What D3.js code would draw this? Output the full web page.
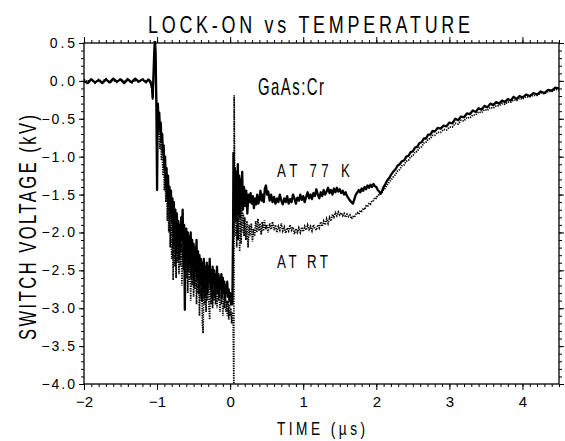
<!DOCTYPE html>
<html>
<head>
<meta charset="utf-8">
<script src="https://cdn.jsdelivr.net/npm/d3@7"></script>
<style>
  body { margin: 0; background: #fff; }
  svg text { font-family: "Liberation Sans", "DejaVu Sans", sans-serif; fill: #000; }
</style>
</head>
<body>
<svg id="chart" width="565" height="441"></svg>
<script>
// [time (us), voltage (kV)]
var trace77K = [
[-2.0,0.0],[-1.95,-0.03],[-1.9,0.02],[-1.85,-0.02],[-1.8,0.01],[-1.75,-0.03],[-1.7,0.02],[-1.65,-0.02],[-1.6,0.03],[-1.55,-0.01],[-1.5,0.02],[-1.45,-0.03],[-1.4,0.02],[-1.35,-0.02],[-1.3,0.03],[-1.25,-0.01],[-1.2,0.02],[-1.15,-0.02],[-1.12,0.02],[-1.09,-0.01],[-1.07,-0.08],[-1.06,-0.22],[-1.05,0.05],[-1.04,0.35],[-1.03,0.56],[-1.02,0.38],[-1.01,-0.3],
[-1.0,-1.44],[-0.99,-0.3],[-0.98,-0.5],[-0.97,-0.42],[-0.96,-0.65],[-0.95,-0.55],[-0.94,-0.8],[-0.93,-0.7],[-0.92,-0.95],[-0.91,-0.85],[-0.9,-1.15],[-0.89,-1.0],[-0.88,-1.4],[-0.87,-1.15],[-0.86,-1.55],[-0.85,-1.25],[-0.84,-1.65],[-0.83,-1.4],[-0.82,-1.75],[-0.81,-1.45],[-0.8,-1.85],[-0.79,-1.55],[-0.78,-2.0],[-0.77,-1.6],[-0.76,-2.15],[-0.75,-1.7],[-0.74,-2.25],[-0.73,-1.75],[-0.72,-2.0],[-0.71,-1.85],[-0.7,-2.35],[-0.69,-1.9],[-0.68,-2.25],[-0.67,-1.8],[-0.66,-2.1],[-0.65,-1.7],[-0.64,-2.3],[-0.63,-1.9],[-0.62,-3.02],[-0.61,-2.1],[-0.6,-1.95],[-0.59,-2.35],[-0.58,-2.0],[-0.57,-2.5],[-0.56,-2.05],[-0.55,-2.4],[-0.54,-2.0],[-0.53,-2.6],[-0.52,-2.1],[-0.51,-2.45],[-0.5,-2.15],[-0.49,-2.7],[-0.48,-2.2],[-0.47,-2.5],[-0.46,-2.1],[-0.45,-2.6],[-0.44,-2.25],[-0.43,-2.8],[-0.42,-2.3],[-0.41,-2.65],[-0.4,-2.35],[-0.39,-2.9],[-0.38,-2.4],[-0.37,-2.75],[-0.36,-2.35],[-0.35,-2.85],[-0.34,-2.45],[-0.33,-2.7],[-0.32,-2.4],[-0.31,-2.8],[-0.3,-2.45],[-0.29,-2.65],[-0.28,-2.35],[-0.27,-2.75],[-0.26,-2.5],[-0.25,-2.85],[-0.24,-2.45],[-0.23,-2.7],[-0.22,-2.5],[-0.21,-2.85],[-0.2,-2.55],[-0.19,-2.75],[-0.18,-2.45],[-0.17,-2.8],[-0.16,-2.55],[-0.15,-2.85],[-0.14,-2.6],[-0.13,-2.75],[-0.12,-2.55],[-0.11,-2.85],[-0.1,-2.6],[-0.09,-2.8],[-0.08,-2.65],[-0.07,-2.9],[-0.06,-2.7],[-0.05,-2.8],[-0.04,-2.65],[-0.03,-2.85],[-0.02,-2.75],[-0.01,-2.9],[0.0,-2.8],[0.01,-2.95],[0.02,-2.85],[0.03,-2.95],[0.04,-2.0],
[0.045,-0.95],[0.055,-1.7],[0.065,-1.15],[0.075,-1.85],[0.085,-1.2],[0.095,-1.6],[0.105,-1.1],[0.115,-1.75],[0.125,-1.25],[0.135,-1.8],[0.145,-1.3],[0.155,-1.65],[0.165,-1.2],[0.175,-1.7],[0.19,-1.4],[0.205,-1.65],[0.22,-1.45],[0.235,-1.75],[0.25,-1.5],[0.265,-1.6],[0.28,-1.48],[0.295,-1.62],[0.31,-1.52],[0.325,-1.68],[0.34,-1.55],[0.355,-1.63],[0.37,-1.5],[0.385,-1.62],[0.4,-1.56],[0.415,-1.45],[0.43,-1.58],[0.445,-1.5],[0.46,-1.6],[0.475,-1.42],[0.49,-1.38],[0.505,-1.5],[0.52,-1.46],[0.54,-1.58],[0.56,-1.5],[0.58,-1.6],[0.6,-1.53],[0.62,-1.62],[0.64,-1.55],[0.66,-1.6],[0.68,-1.5],[0.7,-1.58],[0.72,-1.63],[0.74,-1.55],[0.76,-1.6],[0.78,-1.52],[0.8,-1.62],[0.82,-1.56],[0.84,-1.6],[0.86,-1.5],[0.88,-1.55],[0.9,-1.62],[0.92,-1.54],[0.94,-1.58],[0.96,-1.5],[0.98,-1.57],[1.0,-1.52],[1.02,-1.6],[1.04,-1.53],[1.06,-1.47],[1.08,-1.55],[1.1,-1.5],[1.12,-1.56],[1.14,-1.48],[1.16,-1.52],[1.18,-1.43],[1.2,-1.5],[1.22,-1.55],[1.24,-1.47],[1.26,-1.52],[1.28,-1.44],[1.3,-1.5],[1.32,-1.46],[1.34,-1.41],[1.36,-1.48],[1.38,-1.44],[1.4,-1.5],[1.42,-1.42],[1.44,-1.47],[1.46,-1.41],[1.48,-1.46],[1.5,-1.43],[1.52,-1.48],[1.54,-1.45],[1.56,-1.5],[1.58,-1.47],[1.6,-1.52],[1.62,-1.55],[1.64,-1.58],[1.66,-1.6],[1.68,-1.62],[1.7,-1.56],[1.72,-1.5],[1.74,-1.47],[1.76,-1.44],[1.78,-1.47],[1.8,-1.42],[1.82,-1.45],[1.84,-1.4],[1.86,-1.43],[1.88,-1.38],[1.9,-1.41],[1.92,-1.37],[1.94,-1.4],[1.96,-1.36],[1.98,-1.39],[2.0,-1.4],[2.02,-1.44],[2.04,-1.46],[2.06,-1.49],[2.08,-1.45],[2.1,-1.4],[2.12,-1.37],[2.14,-1.33],[2.16,-1.3],[2.18,-1.28],[2.2,-1.24],[2.23,-1.2],[2.26,-1.17],[2.29,-1.12],[2.32,-1.1],[2.35,-1.06],[2.38,-1.05],[2.41,-1.0],[2.44,-0.99],[2.47,-0.94],[2.5,-0.93],[2.53,-0.88],[2.56,-0.87],[2.59,-0.82],[2.62,-0.81],[2.65,-0.76],[2.68,-0.76],[2.71,-0.71],[2.74,-0.71],[2.77,-0.66],[2.8,-0.67],[2.84,-0.62],[2.88,-0.63],[2.92,-0.59],[2.96,-0.6],[3.0,-0.55],[3.04,-0.56],[3.08,-0.5],[3.12,-0.52],[3.16,-0.47],[3.2,-0.48],[3.24,-0.43],[3.28,-0.44],[3.32,-0.39],[3.36,-0.41],[3.4,-0.36],[3.44,-0.38],[3.48,-0.33],[3.52,-0.35],[3.56,-0.3],[3.6,-0.32],[3.64,-0.28],[3.68,-0.3],[3.72,-0.26],[3.76,-0.28],[3.8,-0.24],[3.84,-0.26],[3.88,-0.21],[3.92,-0.24],[3.96,-0.2],[4.0,-0.22],[4.05,-0.18],[4.1,-0.2],[4.15,-0.16],[4.2,-0.18],[4.25,-0.14],[4.3,-0.16],[4.35,-0.12],[4.4,-0.13],[4.45,-0.09],[4.5,-0.1]
];

var traceRT = [
[-2.0,0.02],[-1.95,-0.01],[-1.9,0.03],[-1.85,-0.03],[-1.8,0.02],[-1.75,-0.01],[-1.7,0.03],[-1.65,-0.03],[-1.6,0.01],[-1.55,-0.02],[-1.5,0.03],[-1.45,-0.01],[-1.4,0.03],[-1.35,-0.03],[-1.3,0.01],[-1.25,-0.02],[-1.2,0.03],[-1.15,-0.01],[-1.12,0.01],[-1.09,-0.03],[-1.07,-0.12],[-1.06,-0.25],[-1.05,0.0],[-1.04,0.25],[-1.03,0.5],[-1.02,0.2],[-1.01,-0.2],
[-1.0,-0.6],[-0.99,-0.45],[-0.98,-0.7],[-0.97,-0.55],[-0.96,-0.9],[-0.95,-0.7],[-0.94,-1.05],[-0.93,-0.85],[-0.92,-1.25],[-0.91,-1.0],[-0.9,-1.45],[-0.89,-1.15],[-0.88,-1.6],[-0.87,-1.3],[-0.86,-1.85],[-0.85,-1.45],[-0.84,-2.0],[-0.83,-1.6],[-0.82,-2.2],[-0.81,-1.75],[-0.8,-2.35],[-0.79,-1.85],[-0.78,-2.63],[-0.77,-1.95],[-0.76,-2.45],[-0.75,-2.0],[-0.74,-2.6],[-0.73,-2.05],[-0.72,-2.4],[-0.71,-2.1],[-0.7,-2.55],[-0.69,-2.1],[-0.68,-2.45],[-0.67,-2.15],[-0.66,-2.7],[-0.65,-2.2],[-0.64,-2.5],[-0.63,-2.1],[-0.62,-2.45],[-0.61,-2.15],[-0.6,-2.6],[-0.59,-2.2],[-0.58,-2.8],[-0.57,-2.3],[-0.56,-2.65],[-0.55,-2.3],[-0.54,-2.9],[-0.53,-2.4],[-0.52,-2.7],[-0.51,-2.35],[-0.5,-2.85],[-0.49,-2.4],[-0.48,-2.75],[-0.47,-2.45],[-0.46,-2.95],[-0.45,-2.5],[-0.44,-2.8],[-0.43,-2.55],[-0.42,-3.1],[-0.41,-2.6],[-0.4,-2.85],[-0.39,-2.6],[-0.38,-3.2],[-0.37,-3.33],[-0.36,-2.7],[-0.35,-2.95],[-0.34,-2.65],[-0.33,-3.05],[-0.32,-2.7],[-0.31,-2.9],[-0.3,-2.6],[-0.29,-3.0],[-0.28,-3.15],[-0.27,-2.75],[-0.26,-2.95],[-0.25,-2.7],[-0.24,-3.0],[-0.23,-2.75],[-0.22,-2.9],[-0.21,-2.65],[-0.2,-2.95],[-0.19,-2.75],[-0.18,-3.0],[-0.17,-2.7],[-0.16,-2.9],[-0.15,-2.75],[-0.14,-3.05],[-0.13,-2.8],[-0.12,-2.95],[-0.11,-2.75],[-0.1,-3.1],[-0.09,-2.85],[-0.08,-3.0],[-0.07,-2.8],[-0.06,-3.05],[-0.05,-2.9],[-0.04,-3.1],[-0.03,-2.9],[-0.02,-3.15],[-0.01,-2.95],[0.0,-3.1],[0.01,-3.0],[0.02,-3.2],[0.03,-3.05],[0.04,-3.15],[0.05,-4.0],
[0.055,-0.19],[0.062,-1.3],[0.07,-2.05],[0.08,-1.45],[0.09,-2.2],[0.1,-1.5],[0.11,-2.1],[0.12,-1.6],[0.13,-2.25],[0.14,-1.7],[0.15,-2.15],[0.16,-1.65],[0.17,-2.0],[0.18,-1.75],[0.19,-2.05],[0.2,-1.8],[0.215,-2.1],[0.23,-1.85],[0.245,-2.2],[0.26,-1.9],[0.275,-2.05],[0.29,-1.88],[0.305,-2.12],[0.32,-1.95],[0.335,-2.05],[0.35,-1.85],[0.365,-2.0],[0.38,-1.82],[0.395,-1.98],[0.41,-1.88],[0.425,-2.03],[0.44,-1.86],[0.455,-1.98],[0.47,-1.84],[0.485,-1.96],[0.5,-1.9],[0.52,-2.0],[0.54,-1.88],[0.56,-1.96],[0.58,-1.86],[0.6,-1.97],[0.62,-1.9],[0.64,-2.0],[0.66,-1.92],[0.68,-1.97],[0.7,-1.88],[0.72,-1.98],[0.74,-1.93],[0.76,-2.01],[0.78,-1.94],[0.8,-1.98],[0.82,-1.9],[0.84,-1.97],[0.86,-1.93],[0.88,-2.02],[0.9,-1.95],[0.92,-2.0],[0.94,-1.94],[0.96,-2.0],[0.98,-1.93],[1.0,-1.99],[1.02,-1.92],[1.04,-1.97],[1.06,-1.9],[1.08,-1.96],[1.1,-1.92],[1.12,-1.98],[1.14,-1.9],[1.16,-1.95],[1.18,-1.97],[1.2,-1.9],[1.22,-1.94],[1.24,-1.86],[1.26,-1.92],[1.28,-1.85],[1.3,-1.9],[1.32,-1.82],[1.34,-1.88],[1.36,-1.8],[1.38,-1.85],[1.4,-1.76],[1.42,-1.8],[1.44,-1.74],[1.46,-1.78],[1.48,-1.73],[1.5,-1.77],[1.52,-1.74],[1.54,-1.78],[1.56,-1.75],[1.58,-1.8],[1.6,-1.76],[1.62,-1.79],[1.64,-1.77],[1.66,-1.82],[1.68,-1.79],[1.7,-1.8],[1.72,-1.76],[1.74,-1.74],[1.76,-1.76],[1.78,-1.71],[1.8,-1.72],[1.82,-1.68],[1.84,-1.7],[1.86,-1.65],[1.88,-1.66],[1.9,-1.62],[1.92,-1.63],[1.94,-1.58],[1.96,-1.58],[1.98,-1.54],[2.0,-1.55],[2.02,-1.51],[2.04,-1.5],[2.06,-1.47],[2.08,-1.47],[2.1,-1.43],[2.12,-1.42],[2.14,-1.38],[2.16,-1.36],[2.18,-1.33],[2.2,-1.31],[2.23,-1.27],[2.26,-1.24],[2.29,-1.19],[2.32,-1.17],[2.35,-1.12],[2.38,-1.11],[2.41,-1.06],[2.44,-1.05],[2.47,-1.0],[2.5,-0.99],[2.53,-0.94],[2.56,-0.93],[2.59,-0.88],[2.62,-0.87],[2.65,-0.82],[2.68,-0.81],[2.71,-0.77],[2.74,-0.76],[2.77,-0.72],[2.8,-0.72],[2.84,-0.68],[2.88,-0.68],[2.92,-0.64],[2.96,-0.65],[3.0,-0.61],[3.04,-0.61],[3.08,-0.56],[3.12,-0.57],[3.16,-0.52],[3.2,-0.53],[3.24,-0.48],[3.28,-0.49],[3.32,-0.45],[3.36,-0.45],[3.4,-0.41],[3.44,-0.42],[3.48,-0.38],[3.52,-0.39],[3.56,-0.35],[3.6,-0.36],[3.64,-0.33],[3.68,-0.33],[3.72,-0.3],[3.76,-0.31],[3.8,-0.28],[3.84,-0.28],[3.88,-0.25],[3.92,-0.26],[3.96,-0.23],[4.0,-0.24],[4.05,-0.21],[4.1,-0.21],[4.15,-0.19],[4.2,-0.19],[4.25,-0.16],[4.3,-0.17],[4.35,-0.14],[4.4,-0.14],[4.45,-0.11],[4.5,-0.12]
];

var xTicks = [-2, -1, 0, 1, 2, 3, 4];
var yTicks = [0.5, 0.0, -0.5, -1.0, -1.5, -2.0, -2.5, -3.0, -3.5, -4.0];

var margin = {left: 84, right: 6, top: 43, bottom: 57};
var W = 565, H = 441;
var svg = d3.select('#chart');

var x = d3.scaleLinear().domain([-2, 4.5]).range([margin.left, W - margin.right]);
var y = d3.scaleLinear().domain([-4, 0.5]).range([H - margin.bottom, margin.top]);

svg.append('clipPath').attr('id', 'clip')
	.append('rect')
	.attr('x', margin.left).attr('y', margin.top - 2)
	.attr('width', x(4.5) - x(-2)).attr('height', y(-4) - y(0.5) + 2);

var minorX = d3.range(-2, 4.51, 0.1);
var minorY = d3.range(-4, 0.51, 0.1);

function styleAxis(g){
	g.select('.domain').remove();
	g.selectAll('line').attr('stroke', '#000').attr('stroke-width', 1);
}

// bottom / top
svg.append('g').attr('transform', 'translate(0,' + y(-4) + ')')
	.call(d3.axisBottom(x).tickValues(minorX).tickSize(3).tickFormat(''))
	.call(styleAxis);
svg.append('g').attr('class', 'xlab').attr('transform', 'translate(0,' + y(-4) + ')')
	.call(d3.axisBottom(x).tickValues(xTicks).tickSize(6).tickPadding(6).tickFormat(d3.format('d')))
	.call(styleAxis);
svg.append('g').attr('transform', 'translate(0,' + y(0.5) + ')')
	.call(d3.axisTop(x).tickValues(minorX).tickSize(3).tickFormat(''))
	.call(styleAxis);
svg.append('g').attr('transform', 'translate(0,' + y(0.5) + ')')
	.call(d3.axisTop(x).tickValues(xTicks).tickSize(6).tickFormat(''))
	.call(styleAxis);

// left / right
svg.append('g').attr('transform', 'translate(' + x(-2) + ',0)')
	.call(d3.axisLeft(y).tickValues(minorY).tickSize(3).tickFormat(''))
	.call(styleAxis);
svg.append('g').attr('class', 'ylab').attr('transform', 'translate(' + x(-2) + ',0)')
	.call(d3.axisLeft(y).tickValues(yTicks).tickSize(5).tickPadding(4).tickFormat(d3.format('.1f')))
	.call(styleAxis);
svg.append('g').attr('transform', 'translate(' + x(4.5) + ',0)')
	.call(d3.axisRight(y).tickValues(minorY).tickSize(3).tickFormat(''))
	.call(styleAxis);
svg.append('g').attr('transform', 'translate(' + x(4.5) + ',0)')
	.call(d3.axisRight(y).tickValues(yTicks).tickSize(5).tickFormat(''))
	.call(styleAxis);

svg.selectAll('.xlab .tick text, .ylab .tick text')
	.attr('font-size', 14)
	.attr('font-family', '"Liberation Sans", "DejaVu Sans", sans-serif');
// spread the y labels a little, as the plotter lettering is spaced out
svg.selectAll('.ylab .tick text')
	.attr('lengthAdjust', 'spacing')
	.attr('textLength', function(){ return this.textContent.length * 8.4; });
svg.selectAll('.xlab .tick text').attr('font-size', 15);

svg.append('rect')
	.attr('x', x(-2)).attr('y', y(0.5))
	.attr('width', x(4.5) - x(-2)).attr('height', y(-4) - y(0.5))
	.attr('fill', 'none').attr('stroke', '#000').attr('stroke-width', 1.3);

var line = d3.line().x(function(d){ return x(d[0]); }).y(function(d){ return y(d[1]); });

var plot = svg.append('g').attr('clip-path', 'url(#clip)');
plot.append('path')
	.datum(traceRT)
	.attr('d', line)
	.attr('fill', 'none').attr('stroke', '#000')
	.attr('stroke-width', 1.7)
	.attr('stroke-dasharray', '1.3,1.1');
plot.append('path')
	.datum(trace77K)
	.attr('d', line)
	.attr('fill', 'none').attr('stroke', '#000')
	.attr('stroke-width', 2.3)
	.attr('stroke-linejoin', 'round');

// narrow, spaced-out lettering: squeeze glyphs with a scale, spread with textLength
function label(txt, px, py, size, len, sx, rot){
	var g = svg.append('g')
		.attr('transform', 'translate(' + px + ',' + py + ')' + (rot ? ' rotate(' + rot + ')' : '') + ' scale(' + sx + ',1)');
	g.append('text')
		.attr('font-size', size)
		.attr('textLength', len / sx)
		.attr('lengthAdjust', 'spacing')
		.text(txt);
	return g;
}
label('LOCK-ON vs TEMPERATURE', 148, 33, 23, 322, 0.78);
label('GaAs:Cr', 258, 95, 24, 66, 0.62);
label('AT 77 K', 277, 177, 19, 73, 0.7);
label('AT RT', 277, 268, 19, 51, 0.7);
label('TIME (\u00b5s)', 277, 435, 19, 88, 0.72);
label('SWITCH VOLTAGE (kV)', 36, 340, 23, 225, 0.72, -90);
</script>
</body>
</html>
